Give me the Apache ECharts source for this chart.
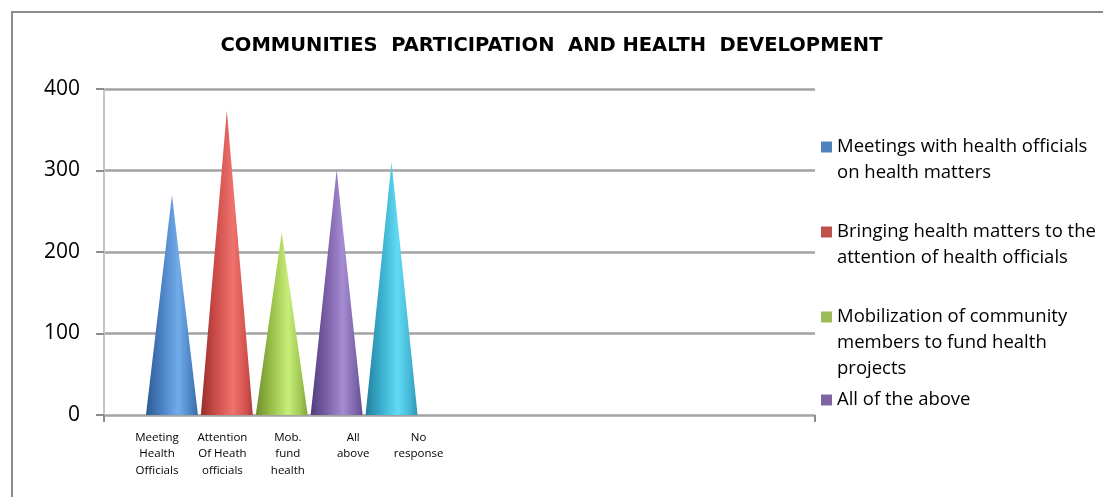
<!DOCTYPE html>
<html>
<head>
<meta charset="utf-8">
<title>Communities participation and health development</title>
<script src="https://cdn.jsdelivr.net/npm/echarts@6/dist/echarts.min.js"></script>
<style>
  html, body { margin: 0; padding: 0; background: #fff; }
  #chart { width: 1103px; height: 497px; }
</style>
</head>
<body>
<div id="chart"></div>
<script>
// Responses per participation type
const categories = [
  'Meeting\nHealth\nOfficials',
  'Attention\nOf Heath\nofficials',
  'Mob.\nfund\nhealth',
  'All\nabove',
  'No\nresponse'
];
const seriesNames = [
  'Meetings with health officials on health matters',
  'Bringing health matters to the attention of health officials',
  'Mobilization of community members to fund health projects',
  'All of the above',
  'No response'
];
const values = [270, 374, 224, 301, 310];
const yTicks = [0, 100, 200, 300, 400];

// legend text as it wraps beside the plot
const legendLines = [
  ['Meetings with health officials', 'on health matters'],
  ['Bringing health matters to the', 'attention of health officials'],
  ['Mobilization of community', 'members to fund health', 'projects'],
  ['All of the above']
];

// cone shading: [left edge, body, highlight, right body, right edge]
const coneShades = [
  ['#2c5a90', '#4a80c4', '#72ace9', '#4f86c8', '#3a6ba6'],
  ['#952f2c', '#cf4e4a', '#ee726d', '#d65450', '#b03d3a'],
  ['#6f8e30', '#98bf48', '#c8ee7a', '#a2c954', '#83a53f'],
  ['#513c7c', '#7a5fa6', '#a68cd2', '#8068ad', '#634d92'],
  ['#23809c', '#3aaecd', '#62daf3', '#44b8d6', '#2f95b2']
];
const legendColors = ['#4f81bd', '#c0504d', '#9bbb59', '#8064a2', '#4bacc6'];

const chart = echarts.init(document.getElementById('chart'), null, { renderer: 'canvas' });

const LINE_H = 26;
const legendFirstLineY = [147, 232, 317, 400];

// Each entry is its own legend so the square sits beside the first text line:
// blank leading lines keep that first line on the icon's centre.
const legends = legendLines.map((lines, i) => {
  const lead = lines.length - 1;
  const totalLines = lead + lines.length;
  const boxH = totalLines * LINE_H;
  const text = '\n'.repeat(lead) + lines.join('\n');
  return {
    data: [seriesNames[i]],
    orient: 'vertical',
    left: 821,
    top: legendFirstLineY[i] - boxH / 2,
    padding: 0,
    itemWidth: 11,
    itemHeight: 11,
    icon: 'rect',
    selectedMode: false,
    itemStyle: { color: legendColors[i] },
    formatter: () => text,
    textStyle: {
      fontFamily: 'Open Sans',
      fontSize: 18.5,
      color: '#000',
      lineHeight: LINE_H
    }
  };
});

const series = seriesNames.map((name, i) => ({
  name: name,
  type: 'pictorialBar',
  xAxisIndex: 1,
  yAxisIndex: 1,
  symbol: 'path://M0,100 L50,0 L100,100 Z',
  symbolSize: [52, '100%'],
  symbolPosition: 'start',
  barGap: '-100%',
  itemStyle: {
    color: new echarts.graphic.LinearGradient(0, 0, 1, 0, [
      { offset: 0, color: coneShades[i][0] },
      { offset: 0.3, color: coneShades[i][1] },
      { offset: 0.62, color: coneShades[i][2] },
      { offset: 0.85, color: coneShades[i][3] },
      { offset: 1, color: coneShades[i][4] }
    ])
  },
  data: values.map((v, j) => (j === i ? v : '-')),
  z: 5
}));

const gridTop = 89;
const gridBottom = 82;

const option = {
  backgroundColor: '#ffffff',
  animation: false,
  color: legendColors,
  title: {
    text: 'COMMUNITIES  PARTICIPATION  AND HEALTH  DEVELOPMENT',
    left: 'center',
    top: 36,
    padding: 0,
    textStyle: {
      fontFamily: 'DejaVu Sans',
      fontWeight: 'bold',
      fontSize: 19.5,
      color: '#000'
    }
  },
  legend: legends,
  graphic: [{
    type: 'rect',
    shape: { x: 12, y: 12, width: 1110, height: 500 },
    style: { fill: 'none', stroke: '#8c8c8c', lineWidth: 2 },
    silent: true,
    z: -1
  }],
  grid: [
    { left: 104, right: 288, top: gridTop, bottom: gridBottom },
    { left: 144.5, right: 684, top: gridTop, bottom: gridBottom },
    { left: 124.3, right: 651.7, top: gridTop, bottom: gridBottom }
  ],
  xAxis: [
    {
      gridIndex: 0,
      type: 'category',
      data: [''],
      axisLine: { show: false },
      axisTick: { show: true, length: 7, lineStyle: { color: '#8c8c8c', width: 2 } },
      axisLabel: { show: false }
    },
    {
      gridIndex: 1,
      type: 'category',
      data: categories,
      show: false
    },
    {
      gridIndex: 2,
      type: 'category',
      data: categories,
      axisLine: { show: false },
      axisTick: { show: false },
      axisLabel: {
        interval: 0,
        margin: 14,
        fontFamily: 'Open Sans',
        fontSize: 11.5,
        lineHeight: 16.5,
        color: '#000'
      }
    }
  ],
  yAxis: [
    {
      gridIndex: 0,
      type: 'value',
      min: yTicks[0],
      max: yTicks[yTicks.length - 1],
      interval: 100,
      axisLine: { show: true, lineStyle: { color: '#c4c4c4', width: 2 } },
      axisTick: { show: true, length: 8, lineStyle: { color: '#8c8c8c', width: 2 } },
      axisLabel: {
        margin: 24,
        fontFamily: 'Open Sans',
        fontSize: 21,
        color: '#000'
      },
      splitLine: { show: true, lineStyle: { color: '#a3a3a3', width: 2.5 } }
    },
    {
      gridIndex: 1,
      type: 'value',
      min: yTicks[0],
      max: yTicks[yTicks.length - 1],
      show: false
    },
    {
      gridIndex: 2,
      type: 'value',
      min: yTicks[0],
      max: yTicks[yTicks.length - 1],
      show: false
    }
  ],
  series: series
};

chart.setOption(option);
</script>
</body>
</html>
